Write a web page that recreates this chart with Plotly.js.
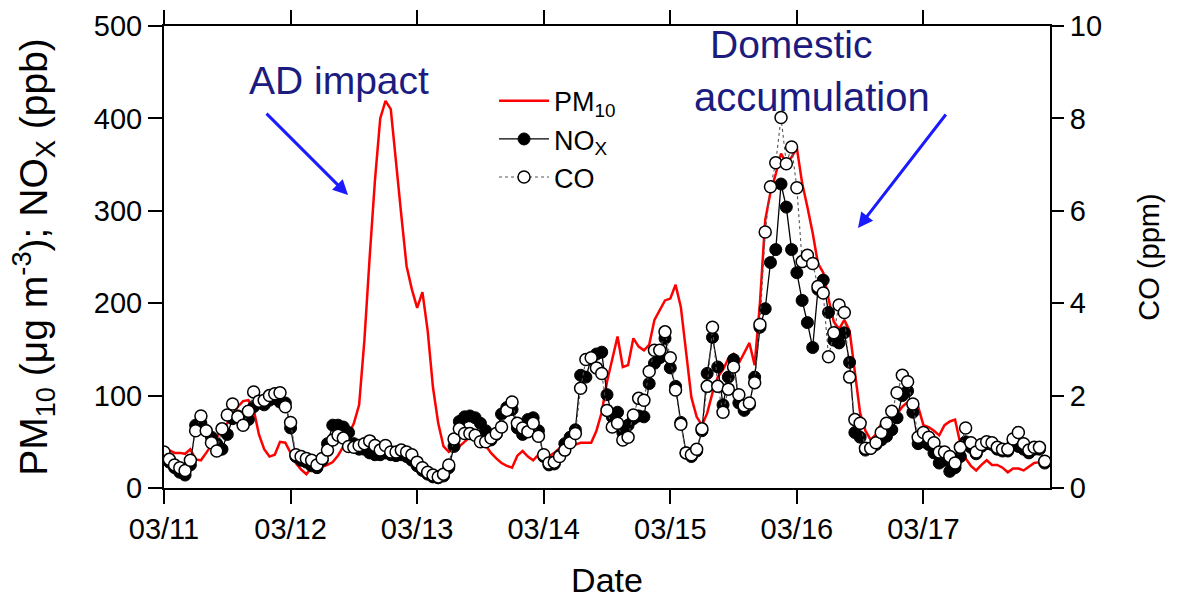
<!DOCTYPE html>
<html>
<head>
<meta charset="utf-8">
<script src="https://cdn.plot.ly/plotly-3.0.1.min.js"></script>
<style>html,body{margin:0;padding:0;background:#fff;}#chart{width:1184px;height:605px;}</style>
</head>
<body>
<div id="chart"></div>
<script>
// Hourly series, 2010-03-11 00:00 ... 03-17 23:00
const startDay = 11;
const dayTicks = ['2010-03-11','2010-03-12','2010-03-13','2010-03-14','2010-03-15','2010-03-16','2010-03-17'];

// PM10 (µg m-3)
const pm10 = [
42,41,38,38,37,42,31,30,38,47,
55,63,70,80,88,94,95,85,58,42,
34,36,50,49,38,27,20,15,22,23,
23,25,28,35,45,58,70,90,160,250,
333,400,419,410,350,295,240,215,195,212,
170,109,70,45,39,43,45,50,55,55,
52,46,38,32,27,24,22,35,40,34,
30,36,37,34,38,43,44,45,47,49,
49,49,62,82,115,140,164,131,133,162,
153,149,155,182,193,203,205,220,196,150,
98,77,68,81,103,120,128,140,145,135,
146,157,133,200,290,320,340,362,352,358,
368,330,304,276,243,233,205,180,172,182,
170,124,81,62,52,58,70,73,76,80,
88,93,88,88,68,66,62,57,68,72,
74,48,32,24,19,25,30,25,25,22,
17,21,21,19,23,27,28,30];

// NOx (ppb)
const nox = [
35,28,22,17,14,25,68,70,62,55,
48,42,58,75,78,70,74,88,92,90,
95,97,93,92,65,34,30,28,24,22,
30,48,68,68,66,60,48,42,42,38,
36,36,38,36,35,36,34,30,24,19,
15,12,11,13,22,45,72,77,78,76,
70,62,52,58,80,87,85,65,58,74,
76,62,34,25,26,35,48,55,63,122,
120,140,145,147,101,77,82,60,68,75,
78,77,113,135,141,162,130,110,71,38,
34,40,62,124,163,131,90,120,139,92,
84,90,120,174,194,244,258,329,304,258,
233,203,179,152,215,225,190,160,157,168,
136,60,55,41,43,47,52,56,63,76,
100,105,82,48,50,47,38,27,30,18,
22,34,50,44,37,45,48,47,42,40,
40,48,45,42,38,42,42,27];

// CO (ppm)
const co = [
0.78,0.62,0.50,0.44,0.38,0.60,1.24,1.56,1.24,0.98,
0.80,1.28,1.58,1.82,1.54,1.36,1.66,2.08,1.88,1.90,
2.00,2.04,2.06,1.76,1.42,0.72,0.68,0.64,0.60,0.50,
0.64,0.82,1.04,1.14,1.08,0.90,0.88,0.92,0.96,1.02,
0.92,0.82,0.92,0.78,0.78,0.82,0.78,0.72,0.56,0.44,
0.34,0.28,0.24,0.30,0.50,1.06,1.28,1.18,1.18,1.14,
1.00,1.00,1.08,1.18,1.32,1.68,1.86,1.40,1.30,1.22,
1.40,1.12,0.72,0.54,0.56,0.68,0.82,0.98,1.18,2.16,
2.78,2.82,2.60,2.48,1.68,1.32,1.40,1.04,1.10,1.58,
1.94,1.90,2.52,2.98,2.98,3.38,2.82,2.12,1.38,0.76,
0.72,0.84,1.28,2.20,3.48,2.20,1.64,2.14,2.62,2.02,
1.78,1.84,2.28,3.54,5.54,6.52,7.04,8.02,7.02,7.38,
6.50,4.90,5.04,4.86,4.36,4.22,2.84,3.36,3.96,3.80,
2.40,1.48,1.40,0.86,0.86,0.98,1.20,1.40,1.66,2.06,
2.44,2.30,1.82,1.10,1.20,1.10,0.98,0.78,0.78,0.68,
0.54,0.88,1.30,0.98,0.78,0.94,1.00,0.98,0.88,0.84,
0.84,1.06,1.20,0.96,0.82,0.88,0.88,0.58];

const pad = n => (n < 10 ? '0' : '') + n;
const times = pm10.map((_, i) => '2010-03-' + pad(startDay + Math.floor(i / 24)) + ' ' + pad(i % 24) + ':00');

const FONT = 'Arial, "Liberation Sans", sans-serif';

const traces = [
  {x: times, y: pm10, name: 'PM<sub>10</sub>', type: 'scatter', mode: 'lines',
   line: {color: '#ff0000', width: 2.5}},
  {x: times, y: nox, name: 'NO<sub>X</sub>', type: 'scatter', mode: 'lines+markers',
   line: {color: '#000000', width: 1.3},
   marker: {symbol: 'circle', size: 12, color: '#000000', line: {color: '#000000', width: 1}}},
  {x: times, y: co, name: 'CO', type: 'scatter', mode: 'lines+markers', yaxis: 'y2',
   line: {color: '#555555', width: 1.1, dash: 'dot'},
   marker: {symbol: 'circle', size: 12, color: '#ffffff', line: {color: '#000000', width: 1.5}}}
];

const axisCommon = {
  showline: true, linecolor: '#000', linewidth: 2,
  ticks: 'outside', ticklen: 14, tickwidth: 2, tickcolor: '#000',
  showgrid: false, zeroline: false,
  tickfont: {family: FONT, size: 29, color: '#000'}
};

const layout = {
  width: 1184, height: 605,
  paper_bgcolor: '#fff', plot_bgcolor: '#fff',
  margin: {l: 164, r: 134, t: 26, b: 117},
  font: {family: FONT, color: '#000'},
  showlegend: true,
  legend: {x: 0.3725, y: 0.89, xanchor: 'left', yanchor: 'top', itemwidth: 50,
           bgcolor: 'rgba(0,0,0,0)', font: {family: FONT, size: 27, color: '#000'}},
  xaxis: Object.assign({}, axisCommon, {
    type: 'date', range: ['2010-03-11 00:00', '2010-03-18 00:00'],
    tickvals: dayTicks, tickformat: '%m/%d', mirror: 'ticks',
    title: {text: 'Date', font: {family: FONT, size: 34, color: '#000'}, standoff: 24}
  }),
  yaxis: Object.assign({}, axisCommon, {
    range: [0, 500], dtick: 100, tick0: 0,
    title: {text: 'PM<sub>10</sub> (μg m<sup>-3</sup>); NO<sub>X</sub> (ppb)', font: {family: FONT, size: 39, color: '#000'}, standoff: 34}
  }),
  yaxis2: Object.assign({}, axisCommon, {
    overlaying: 'y', side: 'right', range: [0, 10], dtick: 2, tick0: 0, ticklen: 12,
    title: {text: 'CO (ppm)', font: {family: FONT, size: 29, color: '#000'}, standoff: 38}
  }),
  annotations: [
    {xref: 'paper', yref: 'paper', x: 0.1975, y: 0.883, xanchor: 'center', yanchor: 'middle',
     text: 'AD impact', showarrow: false, font: {family: FONT, size: 39, color: '#1b1b80'}},
    {xref: 'paper', yref: 'paper', x: 0.7077, y: 0.959, xanchor: 'center', yanchor: 'middle',
     text: 'Domestic', showarrow: false, font: {family: FONT, size: 39, color: '#1b1b80'}},
    {xref: 'paper', yref: 'paper', x: 0.7314, y: 0.846, xanchor: 'center', yanchor: 'middle',
     text: 'accumulation', showarrow: false, font: {family: FONT, size: 40, color: '#1b1b80'}},
    {xref: 'paper', yref: 'paper', x: 0.2077, y: 0.634, text: '', showarrow: true,
     ax: -83, ay: -83, arrowhead: 2, arrowsize: 1, arrowwidth: 3, arrowcolor: '#1a1aff'},
    {xref: 'paper', yref: 'paper', x: 0.7833, y: 0.5628, text: '', showarrow: true,
     ax: 89, ay: -115, arrowhead: 2, arrowsize: 1, arrowwidth: 3, arrowcolor: '#1a1aff'}
  ]
};

Plotly.newPlot('chart', traces, layout, {staticPlot: true, displayModeBar: false});
</script>
</body>
</html>
